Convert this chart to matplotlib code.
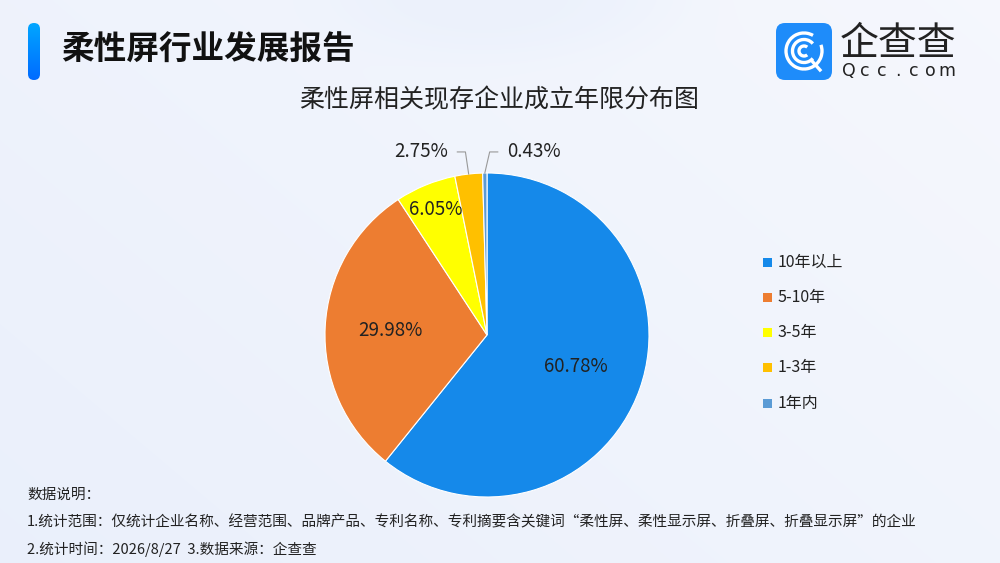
import matplotlib
matplotlib.use("Agg")
import matplotlib.pyplot as plt
import numpy as np
from matplotlib.patches import FancyBboxPatch, Arc, Rectangle

plt.rcParams['font.family'] = ['Noto Sans CJK SC', 'DejaVu Sans']

# ---- data ----
categories = ["10年以上", "5-10年", "3-5年", "1-3年", "1年内"]
values = [60.78, 29.98, 6.05, 2.75, 0.43]
colors = ["#1589EA", "#ED7D31", "#FFFF00", "#FFC000", "#5B9BD5"]
title = "柔性屏相关现存企业成立年限分布图"
header = "柔性屏行业发展报告"
notes = ["数据说明：",
         "1.统计范围：仅统计企业名称、经营范围、品牌产品、专利名称、专利摘要含关键词“柔性屏、柔性显示屏、折叠屏、折叠显示屏”的企业",
         "2.统计时间：2026/8/27  3.数据来源：企查查"]

W, H = 1000, 563
fig = plt.figure(figsize=(W / 100, H / 100), dpi=100)

# background
bg = fig.add_axes([0, 0, 1, 1])
bg.set_xlim(0, W)
bg.set_ylim(H, 0)
bg.axis('off')
yy, xx = np.mgrid[0:H, 0:W]
t = np.clip(xx / W * 0.6 + (H - yy) / H * 0.4, 0, 1)
c1 = np.array([0.918, 0.940, 0.985])
c2 = np.array([0.962, 0.970, 0.993])
img = c1[None, None, :] * (1 - t[..., None]) + c2[None, None, :] * t[..., None]
# soft blob near top centre
d = ((xx - 500) / 190.0) ** 2 + ((yy + 10) / 75.0) ** 2
blob = np.exp(-d ** 2 * 1.5)[..., None]
img = img * (1 - 0.5 * blob) + np.array([0.905, 0.935, 0.985])[None, None, :] * 0.5 * blob
bg.imshow(img, extent=[0, W, H, 0], aspect='auto', zorder=0)

# header bar with gradient
bar = np.linspace(0, 1, 60)[:, None]
barimg = np.zeros((60, 1, 3))
barimg[..., 1] = (0.65 * (1 - bar) + 0.42 * bar)
barimg[..., 2] = 1.0
im = bg.imshow(barimg, extent=[28, 40, 80, 23], aspect='auto', zorder=2)
clip = FancyBboxPatch((28, 23), 12, 57, boxstyle="round,pad=0,rounding_size=6",
                      transform=bg.transData, facecolor='none', edgecolor='none')
bg.add_patch(clip)
im.set_clip_path(clip)
bg.text(61, 50, header, fontsize=23.5, fontweight='bold', color='#111111',
        va='center', ha='left', zorder=3)

# logo
logo = FancyBboxPatch((776, 23), 56, 57, boxstyle="round,pad=0,rounding_size=9",
                      facecolor='#1E8CFA', edgecolor='none', zorder=2)
bg.add_patch(logo)
cx, cy = 804, 51
bg.add_patch(Arc((cx, cy), 36, 36, theta1=-20, theta2=300, color='white', lw=2.4, zorder=3))
bg.add_patch(Arc((cx, cy), 23, 23, theta1=40, theta2=320, color='white', lw=2.4, zorder=3))
bg.add_patch(Arc((cx, cy), 10, 10, theta1=50, theta2=310, color='white', lw=2.4, zorder=3))
bg.plot([812, 820], [61, 70], color='white', lw=2.4, zorder=3)
bg.text(840, 44, "企查查", fontsize=28, color='#222222', va='center', ha='left', zorder=3)
for k, ch in enumerate("Qcc.com"):
    bg.text(849 + k * 16.3, 71, ch, fontsize=12.5, color='#222222', va='center', ha='center',
            zorder=3, family=['DejaVu Sans'])

# chart title
bg.text(499, 100, title, fontsize=18, color='#222222', va='center', ha='center', zorder=3)

# pie
R = 162
pcx, pcy = 487, 335
ax = fig.add_axes([(pcx - R) / W, (H - pcy - R) / H, 2 * R / W, 2 * R / H])
wedges, _ = ax.pie(values, colors=colors, startangle=90, counterclock=False,
                   wedgeprops=dict(edgecolor='white', linewidth=0.8))
ax.set_xlim(-1, 1)
ax.set_ylim(-1, 1)
ax.set_aspect('auto')

inside_r = [0.58, 0.60, 0.84]
for i in range(3):
    w = wedges[i]
    ang = np.deg2rad((w.theta1 + w.theta2) / 2)
    ax.text(inside_r[i] * np.cos(ang), inside_r[i] * np.sin(ang), f"{values[i]:.2f}%",
            ha='center', va='center', fontsize=13.5, color='#222222')

# outside labels with leader lines
out_specs = [(3, -1, 1.13, -0.02), (4, 1, 1.13, 0.03)]
for idx, side, ry, dx in out_specs:
    w = wedges[idx]
    ang = np.deg2rad((w.theta1 + w.theta2) / 2)
    x0, y0 = np.cos(ang), np.sin(ang)
    xk = x0 + dx
    yk = ry
    xe = xk + side * 0.05
    ax.plot([x0, xk, xe], [y0, yk, yk], color='#999999', lw=0.8, clip_on=False)
    ax.text(xe + side * 0.06, yk, f"{values[idx]:.2f}%", ha='left' if side > 0 else 'right',
            va='center', fontsize=13.5, color='#222222')

# legend
for i, (c, lab) in enumerate(zip(colors, categories)):
    y = 262 + i * 35.3
    bg.add_patch(Rectangle((763, y - 4.5), 9, 9, facecolor=c, edgecolor='none', zorder=3))
    bg.text(778, y, lab, fontsize=11.5, color='#222222', va='center', ha='left', zorder=3)

# footer notes
for i, s in enumerate(notes):
    bg.text(27, 495 + i * 27, s, fontsize=10.55, color='#222222', va='center', ha='left', zorder=3)

fig.savefig("out.png", dpi=100)
